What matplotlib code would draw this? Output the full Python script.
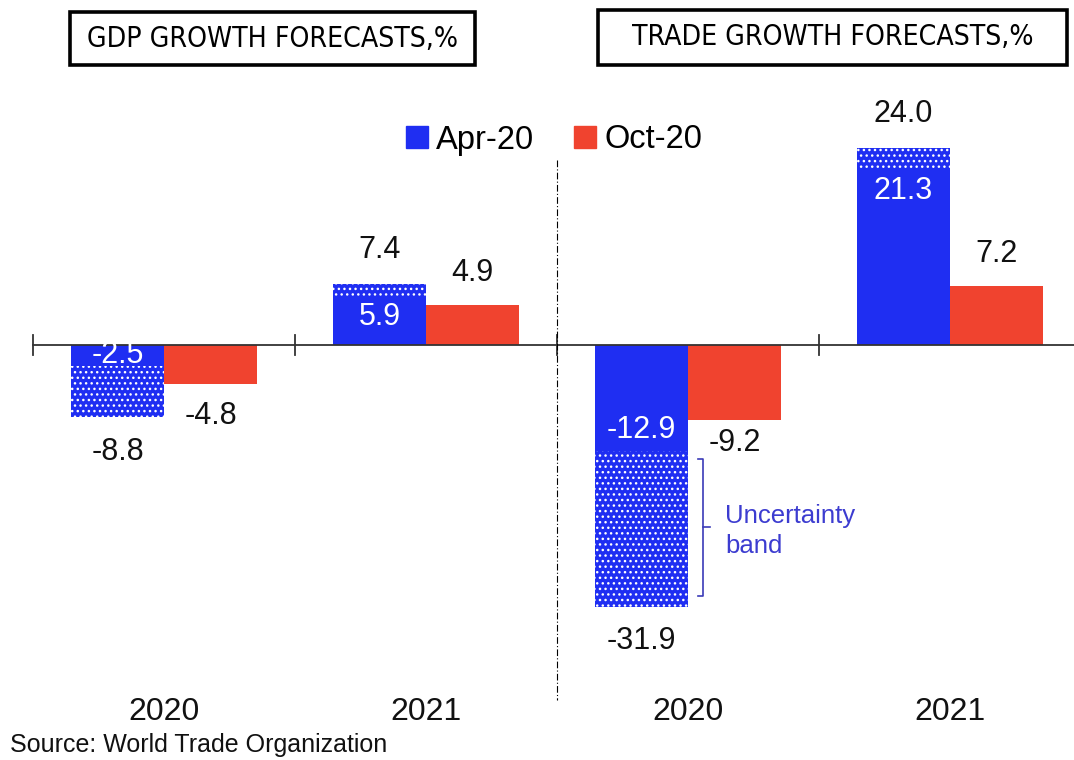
import matplotlib.pyplot as plt
import matplotlib.patches as mpatches
import numpy as np

plt.rcParams['font.family'] = ['Liberation Sans', 'DejaVu Sans']

years = ["2020", "2021", "2020", "2021"]
apr_point = [-2.5, 5.9, -12.9, 21.3]   # solid part of Apr-20 bar
apr_band = [-8.8, 7.4, -31.9, 24.0]    # end of the uncertainty band
oct_vals = [-4.8, 4.9, -9.2, 7.2]
titles = ["GDP GROWTH FORECASTS,%", "TRADE GROWTH FORECASTS,%"]

blue = "#1f2ef2"
red = "#f0432f"

fig = plt.figure(figsize=(10.74, 7.6), dpi=100)
ax = fig.add_axes([0, 0, 1, 1])
ax.set_xlim(-0.626, 3.473)
ax.set_ylim(-50.6, 42.07)
ax.axis("off")

x = np.arange(len(years))
w = 0.355

ax.bar(x - w / 2, apr_point, w, color=blue, linewidth=0)
band_h = [b - p for b, p in zip(apr_band, apr_point)]
ax.bar(x - w / 2, band_h, w, bottom=apr_point, color=blue, edgecolor="white",
       hatch="...", linewidth=0)
ax.bar(x + w / 2, oct_vals, w, color=red, linewidth=0)

# zero line with tick marks
ax.plot([-0.5, 3.473], [0, 0], color="#333333", lw=1.3)
for t in [-0.5, 0.5, 1.5, 2.5]:
    ax.plot([t, t], [-1.2, 1.2], color="#333333", lw=1.3)

# divider between GDP and trade
ax.plot([1.5, 1.5], [22.6, -43.3], color="black", lw=0.8,
        linestyle=(0, (6, 2, 1, 2)))

fs = 22
for i in range(len(years)):
    b = apr_band[i]
    p = apr_point[i]
    o = oct_vals[i]
    sb = 1 if b > 0 else -1
    ax.text(x[i] - w / 2, b + sb * 4.2, f"{b:.1f}", ha="center", va="center",
            fontsize=fs, color="#111111")
    inset = min(abs(p) / 2, 2.5)
    ax.text(x[i] - w / 2, p - np.sign(p) * inset, f"{p:.1f}", ha="center",
            va="center", fontsize=fs, color="white")
    so = 1 if o > 0 else -1
    off = 2.7 if o < -8 else 3.9
    ax.text(x[i] + w / 2, o + so * off, f"{o:.1f}", ha="center", va="center",
            fontsize=fs, color="#111111")
    ax.text(x[i], -44.8, years[i], ha="center", va="center", fontsize=23,
            color="#111111")

# uncertainty bracket for trade 2020
bx = 2.057
top = apr_point[2] - 1.0
bot = apr_band[2] + 1.3
mid = (top + bot) / 2
bc = "#3b3bb8"
ax.plot([bx - 0.02, bx, bx, bx - 0.02], [top, top, bot, bot], color=bc, lw=1.2)
ax.plot([bx, bx + 0.025], [mid, mid], color=bc, lw=1.2)
ax.text(2.141, mid - 0.4, "Uncertainty\nband", ha="left", va="center",
        fontsize=18.5, color="#3c3cd0", linespacing=1.3)

# title boxes
boxes = [(70, 12, 475, 65), (598, 10, 1067, 65)]
for (x0, y0, x1, y1), t in zip(boxes, titles):
    fig.patches.append(mpatches.Rectangle((x0 / 1074, 1 - y1 / 760),
                                          (x1 - x0) / 1074, (y1 - y0) / 760,
                                          transform=fig.transFigure,
                                          facecolor="white", edgecolor="black",
                                          lw=2.6))
    fig.text((x0 + x1) / 2 / 1074, 1 - (y0 + y1) / 2 / 760, t, ha="center",
             va="center", fontsize=20.3, family="DejaVu Sans",
             fontstretch="condensed", color="black")

handles = [mpatches.Patch(color=blue), mpatches.Patch(color=red)]
fig.legend(handles, ["Apr-20", "Oct-20"], loc="center",
           bbox_to_anchor=(554 / 1074, 1 - 140 / 760), ncol=2, frameon=False,
           fontsize=23.5, handlelength=0.68, handleheight=0.68,
           handletextpad=0.25, columnspacing=1.2)

fig.text(10 / 1074, 1 - 745 / 760, "Source: World Trade Organization",
         ha="left", va="center", fontsize=18, color="#111111")

fig.savefig("out.png", dpi=100)
